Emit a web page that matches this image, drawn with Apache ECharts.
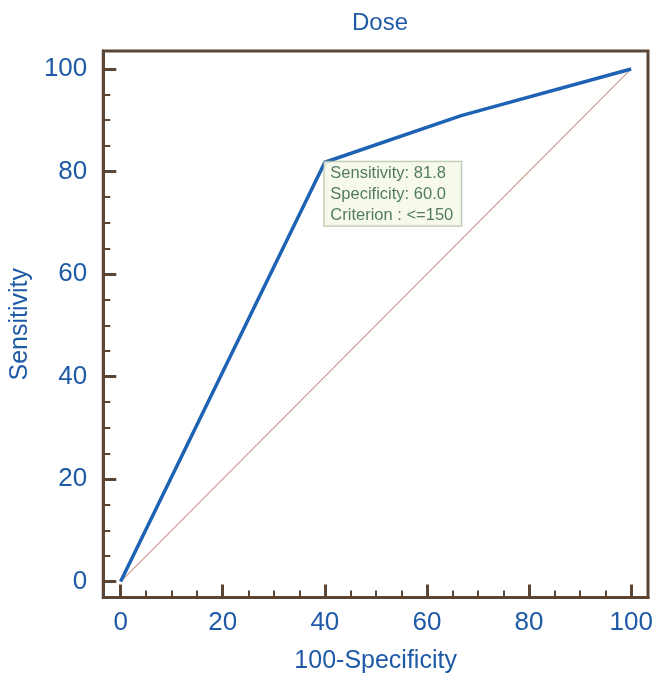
<!DOCTYPE html>
<html>
<head>
<meta charset="utf-8">
<script src="https://cdn.jsdelivr.net/npm/echarts@6/dist/echarts.min.js"></script>
<style>html,body{margin:0;padding:0;background:#fff}#c{width:662px;height:683px}</style>
</head>
<body>
<div id="c"></div>
<script>
const chartTitle = 'Dose';
const xName = '100-Specificity';
const yName = 'Sensitivity';
const rocX = [0, 40, 66.7, 100];
const rocY = [0, 81.8, 90.9, 100];
const diagX = [0, 100];
const diagY = [0, 100];
const majorTicks = [0, 20, 40, 60, 80, 100];
const minorTicks = [5, 10, 15, 25, 30, 35, 45, 50, 55, 65, 70, 75, 85, 90, 95];
const criterionPoint = [40, 81.8];
const criterionLines = ['Sensitivity: 81.8', 'Specificity: 60.0', 'Criterion : <=150'];

const BLUE_TXT = '#1f5aa6';
const BROWN = '#5b4636';
const FONT = 'Liberation Sans, Arial, sans-serif';

function mkAxis(type, isMajor) {
  const base = {
    type: 'value',
    position: type === 'x' ? 'bottom' : 'left',
    min: type === 'x' ? -3.4 : -3.1,
    max: type === 'x' ? 103.3 : 103.5,
    splitLine: { show: false },
    axisLine: { show: isMajor, onZero: false, lineStyle: { color: BROWN, width: 3 } },
    axisTick: {
      show: true, inside: true,
      length: isMajor ? 13 : 7,
      customValues: isMajor ? majorTicks : minorTicks,
      lineStyle: { color: BROWN, width: isMajor ? 3 : 2 }
    },
    axisLabel: {
      show: isMajor,
      customValues: majorTicks,
      color: BLUE_TXT, fontSize: 26, fontFamily: FONT,
      margin: type === 'x' ? 12 : 16
    }
  };
  if (isMajor) {
    base.name = type === 'x' ? xName : yName;
    base.nameLocation = 'middle';
    base.nameGap = type === 'x' ? 51 : 67;
    base.nameTextStyle = { color: BLUE_TXT, fontSize: 25, fontFamily: FONT };
  }
  return base;
}

const chart = echarts.init(document.getElementById('c'), null, { renderer: 'canvas' });
chart.setOption({
  animation: false,
  title: {
    text: chartTitle, left: 375, top: 6, textAlign: 'center',
    textStyle: { color: BLUE_TXT, fontSize: 24, fontWeight: 'normal', fontFamily: FONT }
  },
  grid: {
    left: 102, right: 14, top: 51, bottom: 85.5,
    show: true, borderColor: BROWN, borderWidth: 3, backgroundColor: 'transparent'
  },
  xAxis: [mkAxis('x', true), mkAxis('x', false)],
  yAxis: [mkAxis('y', true), mkAxis('y', false)],
  series: [
    {
      type: 'line', xAxisIndex: 0, yAxisIndex: 0,
      data: diagX.map((x, i) => [x, diagY[i]]),
      symbol: 'none',
      lineStyle: { color: '#c99c92', width: 1.2 },
      z: 2
    },
    {
      type: 'line', xAxisIndex: 0, yAxisIndex: 0,
      data: rocX.map((x, i) => [x, rocY[i]]),
      symbol: 'none',
      lineStyle: { color: '#1e62b4', width: 3.5 },
      z: 3
    },
    {
      type: 'scatter', xAxisIndex: 0, yAxisIndex: 0,
      data: [criterionPoint],
      symbolSize: 1,
      itemStyle: { color: 'rgba(0,0,0,0)' },
      z: 4,
      label: {
        show: true,
        position: [0, 0],
        formatter: criterionLines.join('\n'),
        color: '#285a3e',
        fontSize: 16.5,
        lineHeight: 21,
        fontFamily: FONT,
        backgroundColor: '#f4f7e6',
        borderColor: '#a3b596',
        borderWidth: 1,
        padding: [1, 8, 0, 6]
      }
    }
  ]
});
</script>
</body>
</html>
